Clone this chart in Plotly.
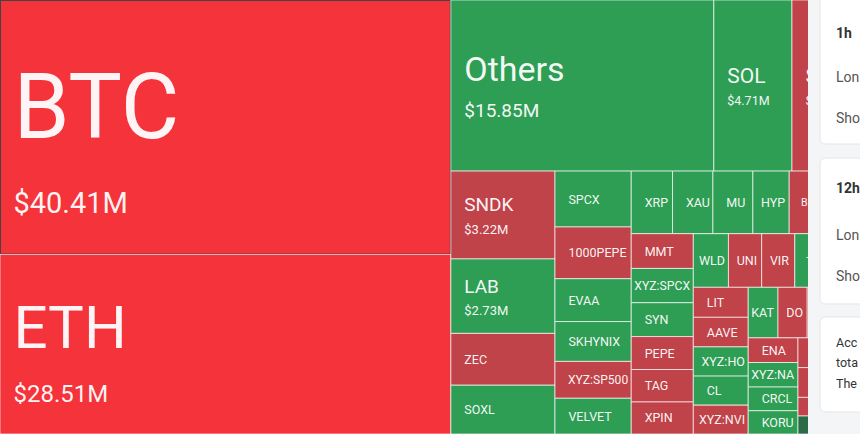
import plotly.graph_objects as go

# ---------------- data (liquidation treemap, $M) ----------------
labels = [
    "BTC", "ETH", "Others", "SOL", "SUI", "SNDK", "LAB", "ZEC", "SOXL",
    "SPCX", "1000PEPE", "EVAA", "SKHYNIX", "XYZ:SP500", "VELVET",
    "XRP", "XAU", "MU", "HYP", "BNB", "ZORA",
    "MMT", "XYZ:SPCX", "SYN", "PEPE", "TAG", "XPIN",
    "WLD", "UNI", "VIR", "TRX", "LINK",
    "LIT", "AAVE", "XYZ:HO", "CL", "XYZ:NVI",
    "KAT", "DO", "ADA", "AVAX",
    "ENA", "XYZ:NA", "CRCL", "KORU",
    "XPL", "TRUMP", "LTC", "ONDO", "AVNT", "PENGU", "NEAR", "ARB", "OP", "WIF", "TIA", "SEI",
]
values = [
    40.41, 28.51, 15.85, 4.71, 4.10, 3.22, 2.73, 1.90, 1.79,
    1.50, 1.39, 1.15, 1.07, 0.99, 0.96,
    0.91, 0.89, 0.88, 0.80, 0.79, 0.77,
    0.76, 0.75, 0.74, 0.72, 0.71, 0.70,
    0.664, 0.628, 0.626, 0.620, 0.612,
    0.580, 0.572, 0.565, 0.562, 0.558,
    0.530, 0.520, 0.475, 0.465,
    0.432, 0.430, 0.415, 0.408,
    0.33, 0.32, 0.17, 0.165, 0.16, 0.155, 0.15, 0.145, 0.14, 0.135, 0.13, 0.10,
]
trend = [
    "down2", "down2", "up", "up", "down", "down", "up", "down", "up",
    "up", "down", "up", "up", "down", "up",
    "up", "up", "up", "up", "down", "down",
    "down", "up", "up", "down", "down", "down",
    "up", "down", "down", "up", "up",
    "down", "down", "up", "up", "down",
    "up", "down", "down", "down",
    "down", "up", "up", "up",
    "down", "down", "down", "down", "down", "down", "down", "up2", "up", "down", "up", "down",
]
# tiles lying fully under the side panel (their names are not visible)
covered = {"ZORA", "LINK", "ADA", "AVAX", "XPL", "TRUMP", "LTC", "ONDO", "AVNT",
           "PENGU", "NEAR", "ARB", "OP", "WIF", "TIA", "SEI"}

COLORS = {"down2": "#F5333B", "down": "#C0434A", "up": "#2F9E55", "up2": "#2B6B47"}


def tier(v):
    # (label font, value font, base font -> line spacing, top spacer font)
    if v >= 35:
        return 90, 29, 58, 30
    if v >= 20:
        return 60, 24, 42, 14
    if v >= 10:
        return 34, 19, 28, 0
    if v >= 3.5:
        return 21, 12.5, 17, 0
    if v >= 2.5:
        return 19, 13, 17, 0
    return 12.5, None, 12.5, 0


# left inset (number of no-break spaces); narrow tiles get less so the name keeps its size
label_pad = {"HYP": 2, "WLD": 1, "UNI": 2, "VIR": 2, "KAT": 0, "DO": 2,
             "XYZ:SPCX": 0, "XYZ:HO": 2, "XYZ:NA": 0, "XYZ:NVI": 1}


def pad(n):
    return f'<span style="font-size:10.5px">{chr(160) * n}</span>' if n else ""


texts, sizes = [], []
for lab, v in zip(labels, values):
    ls, vs, base, spacer = tier(v)
    if lab in covered:
        texts.append("")
        sizes.append(base)
        continue
    p = pad(label_pad.get(lab, 4))
    t = ""
    if spacer:
        t += f'<span style="font-size:{spacer}px">{chr(160)}</span><br>'
    t += f'{p}<span style="font-size:{ls}px">{lab}</span>'
    if vs:
        t += f'<br>{p}<span style="font-size:{vs}px">${v:.2f}M</span>'
    texts.append(t)
    sizes.append(base)

fig = go.Figure(go.Treemap(
    labels=labels,
    parents=[""] * len(labels),
    values=values,
    text=texts,
    textinfo="text",
    textposition="middle left",
    textfont=dict(family="Roboto", size=sizes, color="rgba(255,255,255,0.95)"),
    marker=dict(colors=[COLORS[t] for t in trend],
                line=dict(color="rgba(255,255,255,0.65)", width=1),
                pad=dict(t=0, l=0, r=0, b=0)),
    tiling=dict(packing="squarify", squarifyratio=1.618, pad=0),
    sort=True,
    pathbar=dict(visible=False),
    root=dict(color="rgba(0,0,0,0)"),
    hoverinfo="skip",
    domain=dict(x=[0, 1], y=[0, 1]),
))

W, H = 860, 434


def px(x):
    return x / W


def py(y):
    return 1 - y / H


def rrect(x0, y0, x1, y1, r):
    pts = [
        ("M", [(x0 + r, y0)]), ("L", [(x1 - r, y0)]), ("Q", [(x1, y0), (x1, y0 + r)]),
        ("L", [(x1, y1 - r)]), ("Q", [(x1, y1), (x1 - r, y1)]), ("L", [(x0 + r, y1)]),
        ("Q", [(x0, y1), (x0, y1 - r)]), ("L", [(x0, y0 + r)]), ("Q", [(x0, y0), (x0 + r, y0)]),
    ]
    s = ""
    for cmd, ps in pts:
        s += cmd + " ".join(f"{px(a):.5f},{py(b):.5f}" for a, b in ps) + " "
    return s + "Z"


shapes = [dict(type="rect", xref="paper", yref="paper", x0=px(808), x1=1.02, y0=-0.02, y1=1.02,
               fillcolor="#F4F5F7", line=dict(width=0), layer="above")]
for (y0, y1) in [(-8, 144), (158, 304), (317, 412)]:
    shapes.append(dict(type="path", xref="paper", yref="paper", path=rrect(820, y0, 890, y1, 6),
                       fillcolor="#FFFFFF", line=dict(color="#E4E6EA", width=1), layer="above"))

side_text = [
    ("<b>1h</b>", 33, "#333333", 14), ("Lon", 77, "#555555", 14), ("Sho", 118, "#555555", 14),
    ("<b>12h</b>", 188, "#333333", 14), ("Lon", 235, "#555555", 14), ("Sho", 276, "#555555", 14),
    ("Acc", 342, "#333333", 12.5), ("tota", 362, "#333333", 12.5), ("The", 383, "#333333", 12.5),
]
annotations = [dict(text=t, x=px(835), y=py(y), xref="paper", yref="paper", xanchor="left",
                    yanchor="middle", showarrow=False, borderpad=0,
                    font=dict(family="Roboto", size=s, color=c)) for t, y, c, s in side_text]

fig.update_layout(
    width=W, height=H,
    margin=dict(l=0, r=0, t=0, b=0),
    paper_bgcolor="white",
    shapes=shapes,
    annotations=annotations,
    showlegend=False,
)

fig.write_html("out.html")
